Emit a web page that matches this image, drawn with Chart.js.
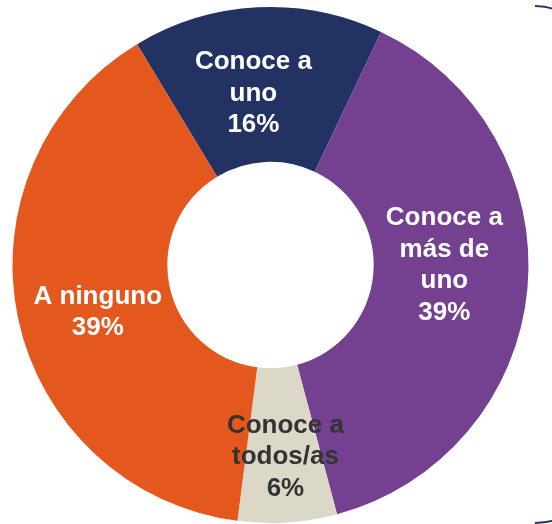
<!DOCTYPE html>
<html>
<head>
<meta charset="utf-8">
<script src="https://cdn.jsdelivr.net/npm/chart.js@4"></script>
<style>
    html, body { margin: 0; padding: 0; background: #fff; }
    #wrap { width: 552px; height: 524px; position: relative; }
</style>
</head>
<body>
<div id="wrap"><canvas id="donut"></canvas></div>
<script>
// ---- Data -----------------------------------------------------------------
const categories = [
    ["Conoce a", "uno"],
    ["Conoce a", "más de", "uno"],
    ["Conoce a", "todos/as"],
    ["A ninguno"],
];
const shares = [15.7, 38.8, 6.2, 39.3];
const sliceColors = ["#223262", "#744191", "#dbd8c7", "#e4571d"];
const labelColors = ["#ffffff", "#ffffff", "#333333", "#ffffff"];
// small nudges (px) so the labels sit where the original placed them
const labelNudge = [[-8, 9], [-6, -16], [3, 12], [4, 10]];

// ---- Labels drawn inside each slice ---------------------------------------
const sliceLabels = {
    id: "sliceLabels",
    afterDatasetsDraw(chart) {
        const ctx = chart.ctx;
        const meta = chart.getDatasetMeta(0);
        ctx.save();
        ctx.font = "bold 26px 'Liberation Sans', Arial, sans-serif";
        ctx.textAlign = "center";
        ctx.textBaseline = "middle";
        meta.data.forEach((arc, i) => {
            const p = arc.tooltipPosition();
            const lines = categories[i].concat([Math.round(shares[i]) + "%"]);
            const lh = 31.5;
            const x = p.x + labelNudge[i][0];
            const y0 = p.y + labelNudge[i][1] - ((lines.length - 1) * lh) / 2;
            ctx.fillStyle = labelColors[i];
            lines.forEach((t, k) => ctx.fillText(t, x, y0 + k * lh));
        });
        ctx.restore();
    },
};

// thin frame edge visible at the right border of the original
const frameEdge = {
    id: "frameEdge",
    afterDraw(chart) {
        const ctx = chart.ctx;
        ctx.save();
        ctx.strokeStyle = "#223262";
        ctx.lineWidth = 2;
        ctx.beginPath();
        ctx.moveTo(535, 6);
        ctx.quadraticCurveTo(548, 6.5, 556, 10);
        ctx.stroke();
        ctx.beginPath();
        ctx.moveTo(535, 523);
        ctx.quadraticCurveTo(548, 522.5, 556, 520);
        ctx.stroke();
        ctx.restore();
    },
};

new Chart(document.getElementById("donut"), {
    type: "doughnut",
    data: {
        labels: categories.map((c) => c.join(" ")),
        datasets: [{
            data: shares,
            backgroundColor: sliceColors,
            borderWidth: 0,
        }],
    },
    options: {
        responsive: true,
        maintainAspectRatio: false,
        animation: false,
        rotation: -31.15,
        cutout: "40%",
        layout: { padding: { left: 12, right: 23, top: 7, bottom: 1 } },
        plugins: {
            legend: { display: false },
            tooltip: { enabled: false },
        },
    },
    plugins: [sliceLabels, frameEdge],
});
</script>
</body>
</html>
